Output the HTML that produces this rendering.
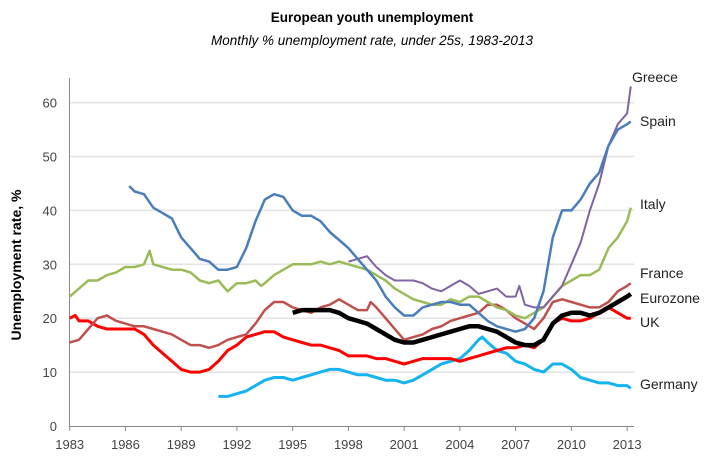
<!DOCTYPE html>
<html><head><meta charset="utf-8"><style>
body{margin:0;background:#fff;width:720px;height:461px;overflow:hidden;font-family:"Liberation Sans",sans-serif}
svg text{font-family:"Liberation Sans",sans-serif}
</style></head><body>
<svg id="chart" width="720" height="461" xmlns="http://www.w3.org/2000/svg">
<text x="372" y="22" text-anchor="middle" font-size="13.5" font-weight="bold" fill="#000">European youth unemployment</text>
<text x="372" y="45" text-anchor="middle" font-size="13.5" font-style="italic" fill="#000">Monthly % unemployment rate, under 25s, 1983-2013</text>
<text transform="translate(21,265) rotate(-90)" text-anchor="middle" font-size="14" font-weight="bold" fill="#000">Unemployment rate, %</text>
<g id="grid"></g><g id="axes"></g><g id="series"></g><g id="labels"></g>
</svg>
<script>
const xTicks=[1983,1986,1989,1992,1995,1998,2001,2004,2007,2010,2013];
const yTicks=[0,10,20,30,40,50,60];
const spainYears=[1986.2,1986.5,1987,1987.5,1988,1988.5,1989,1989.5,1990,1990.5,1991,1991.5,1992,1992.5,1993,1993.5,1994,1994.5,1995,1995.5,1996,1996.5,1997,1997.5,1998,1998.5,1999,1999.5,2000,2000.5,2001,2001.5,2002,2002.5,2003,2003.5,2004,2004.5,2005,2005.5,2006,2006.5,2007,2007.5,2008,2008.5,2009,2009.5,2010,2010.5,2011,2011.5,2012,2012.5,2013,2013.2];
const spainValues=[44.5,43.5,43,40.5,39.5,38.5,35,33,31,30.5,29,29,29.5,33,38,42,43,42.5,40,39,39,38,36,34.5,33,31,29,27,24,22,20.5,20.5,22,22.5,23,23,22.5,22.5,21,19.5,18.5,18,17.5,18,20,25,35,40,40,42,45,47,52,55,56,56.5];
const greeceYears=[1998,1998.5,1999,1999.5,2000,2000.5,2001,2001.5,2002,2002.5,2003,2003.5,2004,2004.5,2005,2005.5,2006,2006.5,2007,2007.2,2007.5,2008,2008.5,2009,2009.5,2010,2010.5,2011,2011.5,2012,2012.5,2013,2013.2];
const greeceValues=[30.5,31,31.5,29.5,28,27,27,27,26.5,25.5,25,26,27,26,24.5,25,25.5,24,24,26,22.5,22,22,24,26,30,34,40,45,52,56,58,63];
const italyYears=[1983,1983.5,1984,1984.5,1985,1985.5,1986,1986.5,1987,1987.3,1987.5,1988,1988.5,1989,1989.5,1990,1990.5,1991,1991.5,1992,1992.5,1993,1993.3,1993.5,1994,1994.5,1995,1995.5,1996,1996.5,1997,1997.5,1998,1998.5,1999,1999.5,2000,2000.5,2001,2001.5,2002,2002.5,2003,2003.5,2004,2004.5,2005,2005.5,2006,2006.5,2007,2007.5,2008,2008.5,2009,2009.5,2010,2010.5,2011,2011.5,2012,2012.5,2013,2013.2];
const italyValues=[24,25.5,27,27,28,28.5,29.5,29.5,30,32.5,30,29.5,29,29,28.5,27,26.5,27,25,26.5,26.5,27,26,26.5,28,29,30,30,30,30.5,30,30.5,30,29.5,29,28,27,25.5,24.5,23.5,23,22.5,22.5,23.5,23,24,24,23,22,21.5,20.5,20,21,22,24,26,27,28,28,29,33,35,38,40.5];
const franceYears=[1983,1983.5,1984,1984.5,1985,1985.5,1986,1986.5,1987,1987.5,1988,1988.5,1989,1989.5,1990,1990.5,1991,1991.5,1992,1992.5,1993,1993.5,1994,1994.5,1995,1995.5,1996,1996.5,1997,1997.5,1998,1998.5,1999,1999.2,1999.5,2000,2000.5,2001,2001.5,2002,2002.5,2003,2003.5,2004,2004.5,2005,2005.5,2006,2006.5,2007,2007.5,2008,2008.5,2009,2009.5,2010,2010.5,2011,2011.5,2012,2012.5,2013,2013.2];
const franceValues=[15.5,16,18,20,20.5,19.5,19,18.5,18.5,18,17.5,17,16,15,15,14.5,15,16,16.5,17,19,21.5,23,23,22,21.5,21,22,22.5,23.5,22.5,21.5,21.5,23,22,20,18,16,16.5,17,18,18.5,19.5,20,20.5,21,22.5,22.5,21.5,20,19,18,20,23,23.5,23,22.5,22,22,23,25,26,26.5];
const euroYears=[1995,1995.5,1996,1996.5,1997,1997.5,1998,1998.5,1999,1999.5,2000,2000.5,2001,2001.5,2002,2002.5,2003,2003.5,2004,2004.5,2005,2005.5,2006,2006.5,2007,2007.5,2008,2008.5,2009,2009.5,2010,2010.5,2011,2011.5,2012,2012.5,2013,2013.2];
const euroValues=[21,21.5,21.5,21.5,21.5,21,20,19.5,19,18,17,16,15.5,15.5,16,16.5,17,17.5,18,18.5,18.5,18,17.5,16.5,15.5,15,15,16,19,20.5,21,21,20.5,21,22,23,24,24.5];
const ukYears=[1983,1983.3,1983.5,1984,1984.5,1985,1985.5,1986,1986.5,1987,1987.5,1988,1988.5,1989,1989.5,1990,1990.5,1991,1991.5,1992,1992.5,1993,1993.5,1994,1994.5,1995,1995.5,1996,1996.5,1997,1997.5,1998,1998.5,1999,1999.5,2000,2000.5,2001,2001.5,2002,2002.5,2003,2003.5,2004,2004.5,2005,2005.5,2006,2006.5,2007,2007.5,2008,2008.5,2009,2009.5,2010,2010.5,2011,2011.5,2012,2012.5,2013,2013.2];
const ukValues=[20,20.5,19.5,19.5,18.5,18,18,18,18,17,15,13.5,12,10.5,10,10,10.5,12,14,15,16.5,17,17.5,17.5,16.5,16,15.5,15,15,14.5,14,13,13,13,12.5,12.5,12,11.5,12,12.5,12.5,12.5,12.5,12,12.5,13,13.5,14,14.5,14.5,15,14.5,16,19,20,19.5,19.5,20,21,22,21,20,20];
const germanyYears=[1991,1991.5,1992,1992.5,1993,1993.5,1994,1994.5,1995,1995.5,1996,1996.5,1997,1997.5,1998,1998.5,1999,1999.5,2000,2000.5,2001,2001.5,2002,2002.5,2003,2003.5,2004,2004.5,2005,2005.2,2005.5,2006,2006.5,2007,2007.5,2008,2008.5,2009,2009.5,2010,2010.5,2011,2011.5,2012,2012.5,2013,2013.2];
const germanyValues=[5.5,5.5,6,6.5,7.5,8.5,9,9,8.5,9,9.5,10,10.5,10.5,10,9.5,9.5,9,8.5,8.5,8,8.5,9.5,10.5,11.5,12,12.5,14,16,16.5,15.5,14,13.5,12,11.5,10.5,10,11.5,11.5,10.5,9,8.5,8,8,7.5,7.5,7];

const NS="http://www.w3.org/2000/svg";
const X0=69.7,PX=18.58,Y0=426,PY=5.39;
const xs=y=>X0+(y-1983)*PX, ys=v=>Y0-v*PY;
function mk(tag,attrs,parent){const e=document.createElementNS(NS,tag);for(const k in attrs)e.setAttribute(k,attrs[k]);document.getElementById(parent).appendChild(e);return e;}
yTicks.forEach(t=>{
  if(t>0){const g=mk('line',{x1:70,x2:634,y1:ys(t),y2:ys(t),stroke:'#e3e3e3','stroke-width':1.5},'grid');
  
  }
  const l=mk('text',{x:57,y:ys(t)+5,'text-anchor':'end','font-size':13,fill:'#444'},'axes');
  
  
  l.textContent=t;
});
const ax=mk('line',{x1:69.5,x2:69.5,y1:78,y2:427,stroke:'#888','stroke-width':1},'axes');


const bx=mk('line',{x1:69,x2:634,y1:426.5,y2:426.5,stroke:'#888','stroke-width':1},'axes');


xTicks.forEach(t=>{
  const tk=mk('line',{x1:xs(t),x2:xs(t),y1:426,y2:431,stroke:'#888'},'axes');
  
  
  const l=mk('text',{x:xs(t),y:449,'text-anchor':'middle','font-size':13,fill:'#444'},'axes');
  
  
  l.textContent=t;
});
const series=[
 ['germany',germanyYears,germanyValues,'#16b4ee',3,'Germany',384],
 ['uk',ukYears,ukValues,'#ff0000',3,'UK',322],
 ['france',franceYears,franceValues,'#c0504d',2.5,'France',273],
 ['italy',italyYears,italyValues,'#9bbb59',2.5,'Italy',204],
 ['greece',greeceYears,greeceValues,'#8064a2',2,'Greece',77],
 ['spain',spainYears,spainValues,'#4a7ebb',2.5,'Spain',121],
 ['eurozone',euroYears,euroValues,'#000',4.5,'Eurozone',298]
];
series.forEach(s=>{
  const d=s[1].map((y,i)=>(i?'L':'M')+xs(y).toFixed(1)+','+ys(s[2][i]).toFixed(1)).join('');
  const p=mk('path',{d:d,fill:'none',stroke:s[3],'stroke-width':s[4],'stroke-linejoin':'round'},'series');
  
  
  const t=mk('text',{x:s[0]==='greece'?632:640,y:s[6]+5,'font-size':14,fill:'#222'},'labels');
  
  
  t.textContent=s[5];
});
</script>
</body></html>
